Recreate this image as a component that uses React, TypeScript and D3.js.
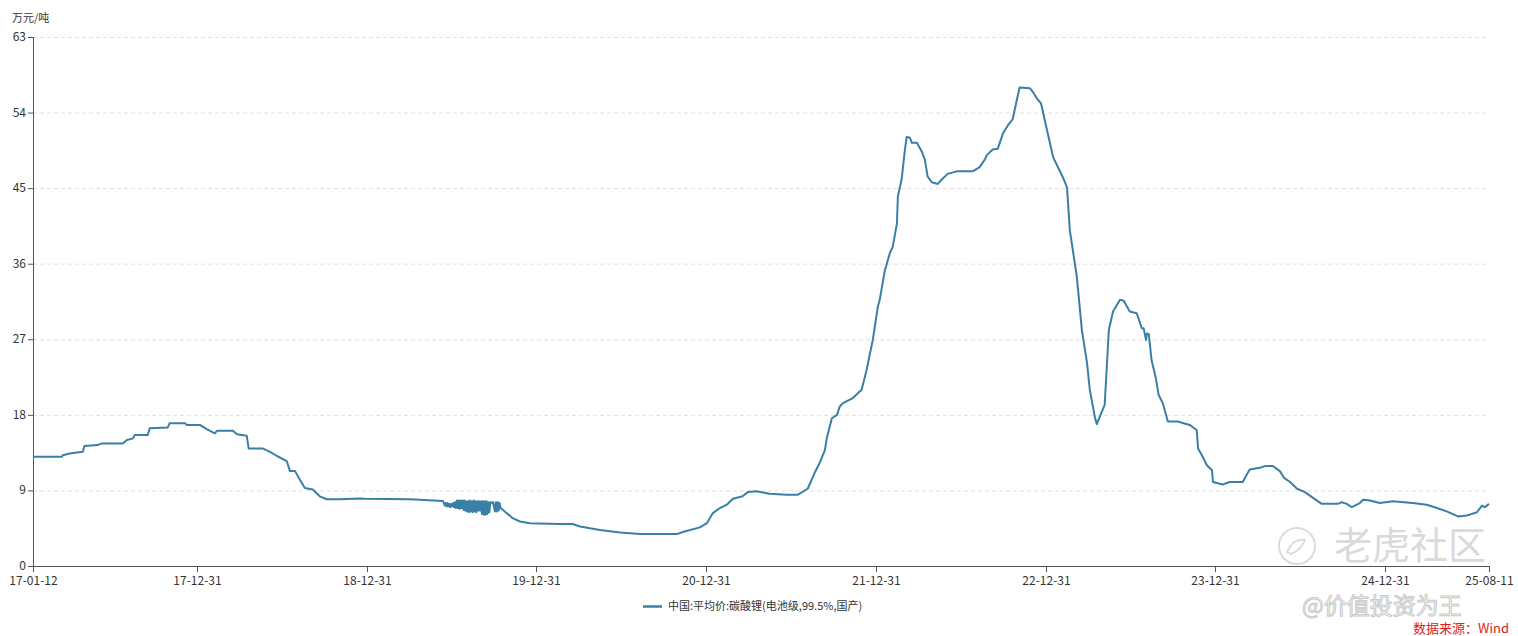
import React from "react";
import * as d3 from "d3";

const unitLabel = "万元/吨";
const seriesName = "中国:平均价:碳酸锂(电池级,99.5%,国产)";
const sourceLabel = "数据来源：Wind";
const yTicks = [0, 9, 18, 27, 36, 45, 54, 63];
const xTickDates = ["2017-01-12", "2017-12-31", "2018-12-31", "2019-12-31", "2020-12-31", "2021-12-31", "2022-12-31", "2023-12-31", "2024-12-31", "2025-08-11"];
const xTickLabels = ["17-01-12", "17-12-31", "18-12-31", "19-12-31", "20-12-31", "21-12-31", "22-12-31", "23-12-31", "24-12-31", "25-08-11"];

const series2017: [string, number][] = [
  ["2017-01-12", 13.0], ["2017-03-15", 13.0], ["2017-03-17", 13.2], ["2017-04-01", 13.4],
  ["2017-04-29", 13.6], ["2017-05-03", 14.3], ["2017-05-31", 14.4], ["2017-06-09", 14.6],
  ["2017-07-24", 14.6], ["2017-08-02", 15.0], ["2017-08-15", 15.2], ["2017-08-19", 15.6],
  ["2017-09-16", 15.6], ["2017-09-20", 16.4], ["2017-10-29", 16.5], ["2017-11-02", 17.0],
  ["2017-12-05", 17.0], ["2017-12-09", 16.8],
];
const series2018: [string, number][] = [
  ["2018-01-06", 16.8], ["2018-01-21", 16.3], ["2018-02-07", 15.8], ["2018-02-12", 16.1],
  ["2018-03-18", 16.1], ["2018-03-27", 15.7], ["2018-04-17", 15.5], ["2018-04-21", 14.0],
  ["2018-05-21", 14.0], ["2018-06-06", 13.6], ["2018-06-21", 13.1], ["2018-07-12", 12.5],
  ["2018-07-19", 11.3], ["2018-07-30", 11.3], ["2018-08-09", 10.3], ["2018-08-20", 9.3],
  ["2018-09-06", 9.1], ["2018-09-21", 8.3], ["2018-10-06", 7.95], ["2018-11-03", 7.95],
  ["2018-12-16", 8.05], ["2018-12-27", 8.0],
];
const series2019: [string, number][] = [
  ["2019-04-03", 7.95], ["2019-06-13", 7.75], ["2019-06-15", 7.5], ["2019-06-17", 7.2],
  ["2019-06-19", 7.5], ["2019-06-21", 7.1], ["2019-06-23", 7.5], ["2019-06-25", 7.1],
  ["2019-06-27", 7.4], ["2019-06-29", 7.0], ["2019-07-01", 7.4], ["2019-07-03", 7.1],
  ["2019-07-05", 7.5], ["2019-07-07", 7.0], ["2019-07-09", 7.6], ["2019-07-11", 6.9],
  ["2019-07-13", 7.8], ["2019-07-15", 6.9], ["2019-07-17", 7.8], ["2019-07-19", 6.8],
  ["2019-07-21", 7.8], ["2019-07-23", 6.9], ["2019-07-25", 7.8], ["2019-07-27", 6.7],
  ["2019-07-29", 7.8], ["2019-07-31", 6.6], ["2019-08-02", 7.7], ["2019-08-04", 6.5],
  ["2019-08-06", 7.7], ["2019-08-08", 6.4], ["2019-08-10", 7.8], ["2019-08-12", 6.5],
  ["2019-08-14", 7.7], ["2019-08-16", 6.4], ["2019-08-18", 7.8], ["2019-08-20", 6.5],
  ["2019-08-22", 7.7], ["2019-08-24", 6.4], ["2019-08-26", 7.7], ["2019-08-28", 6.6],
  ["2019-08-30", 7.7], ["2019-09-01", 6.6], ["2019-09-03", 7.7], ["2019-09-05", 6.2],
  ["2019-09-07", 7.7], ["2019-09-09", 6.1], ["2019-09-11", 7.7], ["2019-09-13", 6.1],
  ["2019-09-15", 7.7], ["2019-09-17", 6.2], ["2019-09-19", 7.6], ["2019-09-21", 6.4],
  ["2019-09-23", 7.6], ["2019-09-25", 7.6], ["2019-09-27", 7.5], ["2019-09-29", 7.6],
  ["2019-10-01", 7.0], ["2019-10-03", 6.5], ["2019-10-05", 7.6], ["2019-10-07", 6.5],
  ["2019-10-09", 7.6], ["2019-10-11", 6.6], ["2019-10-13", 7.5], ["2019-10-15", 6.9],
  ["2019-10-18", 6.8], ["2019-10-24", 6.5], ["2019-11-04", 6.0], ["2019-11-10", 5.7],
  ["2019-11-26", 5.3], ["2019-12-17", 5.1],
];
const series2020: [string, number][] = [
  ["2020-02-19", 5.0], ["2020-03-18", 5.0], ["2020-04-03", 4.7], ["2020-05-16", 4.3],
  ["2020-06-28", 4.0], ["2020-08-10", 3.8], ["2020-10-28", 3.8], ["2020-11-14", 4.1],
  ["2020-12-17", 4.6],
];
const series2021: [string, number][] = [
  ["2021-01-01", 5.1], ["2021-01-14", 6.3], ["2021-01-29", 6.9], ["2021-02-13", 7.3],
  ["2021-02-26", 8.0], ["2021-03-19", 8.3], ["2021-03-30", 8.8], ["2021-04-18", 8.9],
  ["2021-05-16", 8.6], ["2021-06-22", 8.5], ["2021-07-16", 8.5], ["2021-08-06", 9.2],
  ["2021-08-21", 11.1], ["2021-09-01", 12.3], ["2021-09-12", 13.8], ["2021-09-16", 15.2],
  ["2021-09-27", 17.6], ["2021-10-08", 18.0], ["2021-10-14", 19.0], ["2021-10-21", 19.4],
  ["2021-11-11", 20.0], ["2021-11-30", 21.0], ["2021-12-11", 23.4], ["2021-12-18", 25.3],
  ["2021-12-24", 26.9],
];
const series2022: [string, number][] = [
  ["2022-01-04", 30.9], ["2022-01-08", 31.7], ["2022-01-19", 35.2], ["2022-01-30", 37.3],
  ["2022-02-05", 38.0], ["2022-02-14", 40.8], ["2022-02-16", 44.0], ["2022-02-24", 46.0],
  ["2022-03-03", 49.5], ["2022-03-07", 51.1], ["2022-03-14", 51.0], ["2022-03-18", 50.4],
  ["2022-03-29", 50.4], ["2022-04-09", 49.3], ["2022-04-15", 48.4], ["2022-04-21", 46.4],
  ["2022-04-30", 45.7], ["2022-05-13", 45.5], ["2022-05-21", 46.0], ["2022-06-03", 46.7],
  ["2022-06-23", 47.0], ["2022-07-27", 47.0], ["2022-08-11", 47.5], ["2022-08-22", 48.4],
  ["2022-08-26", 48.9], ["2022-09-08", 49.6], ["2022-09-19", 49.7], ["2022-09-30", 51.5],
  ["2022-10-11", 52.5], ["2022-10-21", 53.2], ["2022-10-30", 55.5], ["2022-11-05", 57.0],
  ["2022-11-27", 56.9], ["2022-12-03", 56.5], ["2022-12-12", 55.7], ["2022-12-21", 55.1],
];
const series2023: [string, number][] = [
  ["2023-01-03", 51.9], ["2023-01-16", 48.7], ["2023-02-06", 46.3], ["2023-02-15", 45.1],
  ["2023-02-21", 40.0], ["2023-03-08", 34.5], ["2023-03-19", 28.1], ["2023-03-30", 24.2],
  ["2023-04-05", 21.0], ["2023-04-16", 17.7], ["2023-04-20", 16.9], ["2023-05-07", 19.2],
  ["2023-05-16", 28.1], ["2023-05-25", 30.3], ["2023-06-09", 31.7], ["2023-06-17", 31.6],
  ["2023-06-30", 30.3], ["2023-07-15", 30.1], ["2023-07-26", 28.3], ["2023-07-30", 28.3],
  ["2023-08-04", 26.9], ["2023-08-06", 27.7], ["2023-08-10", 27.6], ["2023-08-16", 24.5],
  ["2023-08-25", 22.4], ["2023-08-31", 20.4], ["2023-09-09", 19.4], ["2023-09-20", 17.2],
  ["2023-10-11", 17.2], ["2023-11-06", 16.8], ["2023-11-21", 16.2], ["2023-11-24", 14.0],
  ["2023-12-04", 13.0], ["2023-12-13", 12.0], ["2023-12-24", 11.4], ["2023-12-26", 10.0],
];
const series2024: [string, number][] = [
  ["2024-01-16", 9.7], ["2024-01-31", 10.0], ["2024-02-28", 10.0], ["2024-03-14", 11.5],
  ["2024-04-05", 11.7], ["2024-04-16", 11.9], ["2024-05-03", 11.9], ["2024-05-18", 11.3],
  ["2024-05-27", 10.5], ["2024-06-09", 10.0], ["2024-06-24", 9.2], ["2024-07-11", 8.8],
  ["2024-07-26", 8.2], ["2024-08-16", 7.4], ["2024-09-20", 7.4], ["2024-09-28", 7.6],
  ["2024-10-09", 7.4], ["2024-10-20", 7.0], ["2024-11-06", 7.5], ["2024-11-13", 7.9],
  ["2024-11-28", 7.8], ["2024-12-19", 7.5],
];
const series2025: [string, number][] = [
  ["2025-01-16", 7.7], ["2025-02-28", 7.5], ["2025-03-30", 7.3], ["2025-04-21", 6.9],
  ["2025-05-12", 6.5], ["2025-06-05", 5.9], ["2025-06-24", 6.0], ["2025-07-16", 6.4],
  ["2025-07-27", 7.2], ["2025-08-02", 7.0], ["2025-08-11", 7.4],
];

const W = 1518;
const H = 636;
const left = 33;
const right = 1489;
const top = 37;
const bottom = 566;
const FONT = "'Noto Sans CJK SC', 'Noto Sans', sans-serif";

export default function App() {
  const parse = d3.timeParse("%Y-%m-%d");
  const data = [...series2017, ...series2018, ...series2019, ...series2020, ...series2021, ...series2022, ...series2023, ...series2024, ...series2025]
    .map(([d, v]) => ({ date: parse(d) as Date, value: v }));
  const x = d3.scaleTime().domain([parse(xTickDates[0]) as Date, parse(xTickDates[xTickDates.length - 1]) as Date]).range([left, right]);
  const y = d3.scaleLinear().domain([0, 63]).range([bottom, top]);
  const line = d3.line<{ date: Date; value: number }>().x((d) => x(d.date)).y((d) => y(d.value));
  const lineColor = "#3a7fa5";

  return (
    <div style={{ position: "absolute", left: 0, top: 0 }}>
      <svg width={W} height={H} style={{ display: "block", fontFamily: FONT }}>
        <rect width={W} height={H} fill="#fff" />
        {/* watermarks */}
        <g>
          <circle cx={1297} cy={546} r={18} fill="none" stroke="#dcdcdc" strokeWidth={2} />
          <path d="M1287,552 q6,-14 18,-12 q-4,10 -14,14 z" fill="none" stroke="#dcdcdc" strokeWidth={2} />
          <text x={1334} y={559} fontSize={38} fill="#dadada" fontFamily={FONT}>老虎社区</text>
          <text x={1302} y={614} fontSize={23} fill="#fff" stroke="#c8c8c8" strokeWidth={1} fontFamily={FONT}>@价值投资为王</text>
        </g>
        {/* grid */}
        {yTicks.filter((t) => t > 0).map((t) => (
          <line key={t} x1={left} x2={right} y1={y(t) + 0.5} y2={y(t) + 0.5} stroke="#e0e0e0" strokeDasharray="4,3" />
        ))}
        {/* y axis */}
        <line x1={left + 0.5} x2={left + 0.5} y1={top} y2={bottom} stroke="#555" />
        {yTicks.map((t) => (
          <g key={t}>
            <line x1={left - 5} x2={left} y1={y(t) + 0.5} y2={y(t) + 0.5} stroke="#555" />
            <text x={left - 7} y={y(t) + 4} fontSize={12} fill="#333" textAnchor="end">{t}</text>
          </g>
        ))}
        <text x={12} y={22} fontSize={11} fill="#333">{unitLabel}</text>
        {/* x axis */}
        <line x1={left} x2={right} y1={bottom + 0.5} y2={bottom + 0.5} stroke="#555" />
        {xTickDates.map((d, i) => {
          const xx = Math.round(x(parse(d) as Date)) + 0.5;
          return (
            <g key={d}>
              <line x1={xx} x2={xx} y1={bottom} y2={bottom + 6} stroke="#555" />
              <text x={xx} y={bottom + 19} fontSize={12} fill="#333" textAnchor="middle">{xTickLabels[i]}</text>
            </g>
          );
        })}
        {/* series */}
        <path d={line(data) || ""} fill="none" stroke={lineColor} strokeWidth={2} strokeLinejoin="round" />
        {/* legend */}
        <line x1={643} x2={662} y1={606.5} y2={606.5} stroke={lineColor} strokeWidth={2.5} />
        <text x={668} y={610} fontSize={11} fill="#333">{seriesName}</text>
        <text x={1509} y={633} fontSize={13} fill="#d22" textAnchor="end">{sourceLabel}</text>
      </svg>
    </div>
  );
}
